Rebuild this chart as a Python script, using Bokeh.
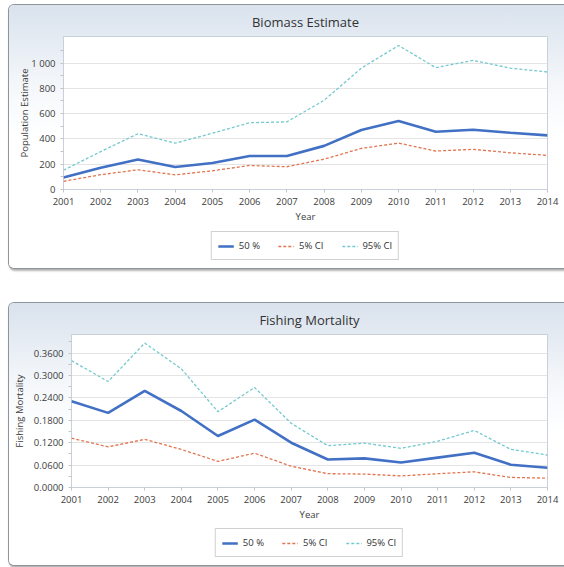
from bokeh.plotting import figure
from bokeh.models import (Legend, LegendItem, FixedTicker, ColumnDataSource,
                          Range1d, NumeralTickFormatter)
from bokeh.layouts import column
from bokeh.embed import file_html
from bokeh.resources import INLINE

# ---------------- data ----------------
years = [2001, 2002, 2003, 2004, 2005, 2006, 2007, 2008, 2009, 2010, 2011, 2012, 2013, 2014]
series_labels = ["50 %", "5% CI", "95% CI"]

bio_50 = [94, 172, 237, 178, 210, 265, 265, 345, 470, 541, 457, 472, 449, 428]
bio_5 = [65, 117, 156, 116, 148, 190, 180, 240, 325, 367, 304, 318, 290, 270]
bio_95 = [152, 300, 441, 366, 445, 528, 535, 705, 960, 1139, 964, 1021, 960, 929]

fm_50 = [0.231, 0.200, 0.259, 0.205, 0.138, 0.182, 0.120, 0.075, 0.078, 0.067, 0.080, 0.093, 0.061, 0.053]
fm_5 = [0.132, 0.109, 0.129, 0.102, 0.070, 0.092, 0.057, 0.037, 0.036, 0.031, 0.037, 0.042, 0.027, 0.025]
fm_95 = [0.340, 0.284, 0.387, 0.318, 0.203, 0.268, 0.172, 0.112, 0.119, 0.105, 0.124, 0.153, 0.102, 0.087]

bio_ticks = [0, 200, 400, 600, 800, 1000]
bio_tick_labels = ["0", "200", "400", "600", "800", "1 000"]
fm_ticks = [0.0, 0.06, 0.12, 0.18, 0.24, 0.30, 0.36]

FONT = "Open Sans"
COLORS = ["#4170c4", "#e2754f", "#74c9cf"]
WIDTH = 555


def add_lines(p, src):
    r95 = p.line("year", "v95", source=src, color=COLORS[2], line_width=1.3,
                 line_dash="3 2")
    r5 = p.line("year", "v5", source=src, color=COLORS[1], line_width=1.3,
                line_dash="3 2")
    r50 = p.line("year", "v50", source=src, color=COLORS[0], line_width=2.6)
    return r50, r5, r95


def make_panel(title, ylabel, v50, v5, v95, yticks, ymax, main_h, leg_h,
               left, top, leg_margin, ylabel_standoff,
               tick_overrides=None, fmt=None):
    src = ColumnDataSource(dict(year=years, v50=v50, v5=v5, v95=v95))

    p = figure(width=WIDTH, height=main_h, output_backend="svg",
               toolbar_location=None, tools="",
               x_range=Range1d(years[0], years[-1]),
               y_range=Range1d(0, ymax),
               min_border_left=left, min_border_right=17,
               min_border_top=top, min_border_bottom=40)
    p.border_fill_color = None
    p.background_fill_color = "white"
    p.outline_line_color = "#c8d0d9"

    p.title.text = title
    p.title.align = "center"
    p.title.text_font = FONT
    p.title.text_font_size = "13px"
    p.title.text_font_style = "normal"
    p.title.text_color = "#333333"
    p.title.standoff = 11

    add_lines(p, src)

    p.xaxis.ticker = FixedTicker(ticks=years)
    minor = [(a + b) / 2 for a, b in zip(yticks[:-1], yticks[1:])]
    minor.append(yticks[-1] + (yticks[1] - yticks[0]) / 2)
    p.yaxis.ticker = FixedTicker(ticks=yticks, minor_ticks=minor)
    if tick_overrides:
        p.yaxis.major_label_overrides = tick_overrides
    if fmt:
        p.yaxis.formatter = fmt
    for ax in (p.xaxis[0], p.yaxis[0]):
        ax.axis_line_color = None
        ax.major_tick_line_color = "#c4c4c4"
        ax.minor_tick_line_color = "#c4c4c4"
        ax.major_tick_in = 0
        ax.major_tick_out = 3
        ax.minor_tick_in = 0
        ax.minor_tick_out = 3
        ax.major_label_text_font = FONT
        ax.major_label_text_font_size = "9.5px"
        ax.major_label_text_color = "#3c3c3c"
        ax.axis_label_text_font = FONT
        ax.axis_label_text_font_size = "9.5px"
        ax.axis_label_text_font_style = "normal"
        ax.axis_label_text_color = "#3c3c3c"
        ax.major_label_standoff = 5
        ax.axis_label_standoff = 2
    p.yaxis.axis_label_standoff = ylabel_standoff
    p.xaxis.minor_tick_line_color = None
    p.xaxis.axis_label = "Year"
    p.yaxis.axis_label = ylabel
    p.xgrid.grid_line_color = None
    p.ygrid.grid_line_color = "#e4e4e4"

    # legend strip (same frame geometry as the chart, series kept out of view)
    lg = figure(width=WIDTH, height=leg_h, output_backend="svg",
                toolbar_location=None, tools="",
                x_range=Range1d(-20, -10), y_range=Range1d(-20, -10),
                x_axis_type=None, y_axis_type=None,
                min_border_left=left, min_border_right=17,
                min_border_top=0, min_border_bottom=0)
    lg.border_fill_color = None
    lg.background_fill_color = None
    lg.outline_line_color = None
    lg.grid.grid_line_color = None
    r50, r5, r95 = add_lines(lg, src)
    legend = Legend(items=[LegendItem(label=series_labels[0], renderers=[r50]),
                           LegendItem(label=series_labels[1], renderers=[r5]),
                           LegendItem(label=series_labels[2], renderers=[r95])],
                    orientation="horizontal", location="top_center")
    legend.border_line_color = "#a3a3a3"
    legend.border_line_width = 1
    legend.background_fill_color = "white"
    legend.background_fill_alpha = 1
    legend.label_text_font = FONT
    legend.label_text_font_size = "9.5px"
    legend.label_text_color = "#333333"
    legend.glyph_width = 16
    legend.glyph_height = 12
    legend.label_height = 15
    legend.label_standoff = 5
    legend.spacing = 18
    legend.padding = 6
    legend.margin = leg_margin
    lg.add_layout(legend)

    panel = column(p, lg, spacing=0, width=WIDTH, height=main_h + leg_h)
    panel.styles = {
        "border-radius": "5px 0 0 5px",
        "box-shadow": "0 0 0 1px #8d949c, 1px 2px 2px 1px rgba(0,0,0,0.30)",
        "background": "linear-gradient(#d9e2ed 0%, #f4f7fa 30%, #ffffff 50%)",
    }
    return panel


panel1 = make_panel("Biomass Estimate", "Population Estimate", bio_50, bio_5, bio_95,
                    bio_ticks, 1210, 224, 39, 54, 30, 2, -3,
                    tick_overrides={t: l for t, l in zip(bio_ticks, bio_tick_labels)})
panel2 = make_panel("Fishing Mortality", "Fishing Mortality", fm_50, fm_5, fm_95,
                    fm_ticks, 0.41, 224, 38, 60, 30, 1, 5,
                    fmt=NumeralTickFormatter(format="0.0000"))

layout = column(panel1, panel2, spacing=35, margin=(5, 0, 0, 9))

open("out.html", "w").write(file_html(layout, INLINE))
